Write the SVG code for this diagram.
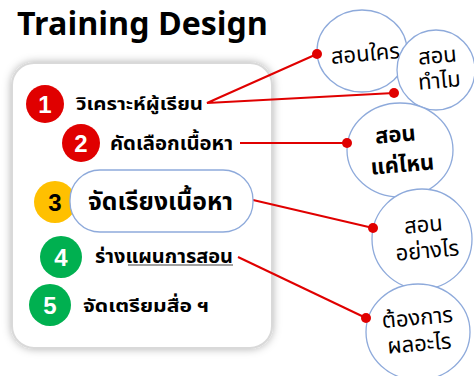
<svg xmlns="http://www.w3.org/2000/svg" width="474" height="376" viewBox="0 0 474 376">
<style>
.t{font-family:"Noto Sans Thai","Noto Sans","Liberation Sans",sans-serif;fill:#000}
.b{font-weight:bold}
.num{font-family:"Liberation Sans","Noto Sans",sans-serif;font-weight:bold;font-size:24px;fill:#fff;text-anchor:middle}
.bub{fill:#fff;stroke:#8eaadb;stroke-width:1.3}
.ln{stroke:#e00000;stroke-width:2;fill:none}
.dot{fill:#e00000}
.ct{font-size:22px;text-anchor:middle}
</style>
<defs>
<filter id="sh" x="-10%" y="-10%" width="120%" height="120%">
<feDropShadow dx="0" dy="0" stdDeviation="4" flood-color="#000" flood-opacity="0.3"/>
</filter>
</defs>
<rect width="474" height="376" fill="#fff"/>
<text class="t b" x="17" y="35" font-size="32" textLength="251" lengthAdjust="spacingAndGlyphs">Training Design</text>
<rect x="12" y="63" width="260" height="285" rx="22" fill="#fff" stroke="#d9d9d9" stroke-width="2" filter="url(#sh)"/>

<g id="connectors">
<polyline class="ln" points="317,54 207,103 394,93"/>
<line class="ln" x1="240" y1="143" x2="347" y2="143"/>
<line class="ln" x1="253" y1="200" x2="373" y2="228"/>
<line class="ln" x1="238" y1="257" x2="366" y2="318"/>
</g>

<g id="q1"><ellipse class="bub" cx="362" cy="51" rx="45" ry="41"/><text class="t ct" font-size="25" transform="translate(366,61) rotate(-5)">สอนใคร</text></g>
<g id="q2"><ellipse class="bub" cx="436" cy="70" rx="39" ry="40"/><text class="t ct" transform="translate(438,63) rotate(-5)">สอน</text><text class="t ct" transform="translate(440,88) rotate(-5)">ทำไม</text></g>
<g id="q3"><ellipse class="bub" cx="400" cy="150" rx="53" ry="47"/><text class="t ct b" font-size="27" transform="translate(396,142) rotate(-5)">สอน</text><text class="t ct b" font-size="27" transform="translate(403,172) rotate(-5)">แค่ไหน</text></g>
<g id="q4"><ellipse class="bub" cx="422" cy="239" rx="50" ry="50"/><text class="t ct" transform="translate(424,232) rotate(-5)">สอน</text><text class="t ct" transform="translate(428,258) rotate(-5)">อย่างไร</text></g>
<g id="q5"><ellipse class="bub" cx="418" cy="332" rx="52" ry="48"/><text class="t ct" transform="translate(418,325) rotate(-5)">ต้องการ</text><text class="t ct" transform="translate(420,351) rotate(-5)">ผลอะไร</text></g>

<g id="dots">
<circle class="dot" cx="317" cy="54" r="5"/>
<circle class="dot" cx="394" cy="93" r="5"/>
<circle class="dot" cx="347" cy="143" r="5"/>
<circle class="dot" cx="373" cy="228" r="5"/>
<circle class="dot" cx="366" cy="318" r="5"/>
</g>

<g id="s1"><circle cx="45" cy="104" r="19" fill="#e00000"/><text class="num" x="45" y="113">1</text><text class="t b" x="76" y="110" font-size="17" textLength="127" lengthAdjust="spacingAndGlyphs">วิเคราะห์ผู้เรียน</text></g>
<g id="s2"><circle cx="81" cy="143" r="19" fill="#e00000"/><text class="num" x="81" y="152">2</text><text class="t b" x="110" y="150" font-size="20" textLength="123" lengthAdjust="spacingAndGlyphs">คัดเลือกเนื้อหา</text></g>
<g id="s3"><circle cx="55" cy="202" r="21" fill="#ffc000"/><text class="num" x="55" y="211" style="fill:#000">3</text><rect x="70" y="170" width="183" height="62" rx="30" class="bub" stroke="#6f8fcf"/><text class="t b" x="88" y="210" font-size="24" textLength="145" lengthAdjust="spacingAndGlyphs">จัดเรียงเนื้อหา</text></g>
<g id="s4"><circle cx="61" cy="257" r="21" fill="#00b050"/><text class="num" x="61" y="266">4</text><text class="t b" x="95" y="263" font-size="19" textLength="138" lengthAdjust="spacingAndGlyphs">ร่างแผนการสอน</text><line x1="128" y1="265" x2="233" y2="265" stroke="#808080" stroke-width="1.5"/></g>
<g id="s5"><circle cx="50" cy="305" r="21" fill="#00b050"/><text class="num" x="50" y="314">5</text><text class="t b" x="83" y="312" font-size="18" textLength="126" lengthAdjust="spacingAndGlyphs">จัดเตรียมสื่อ ฯ</text></g>
</svg>
